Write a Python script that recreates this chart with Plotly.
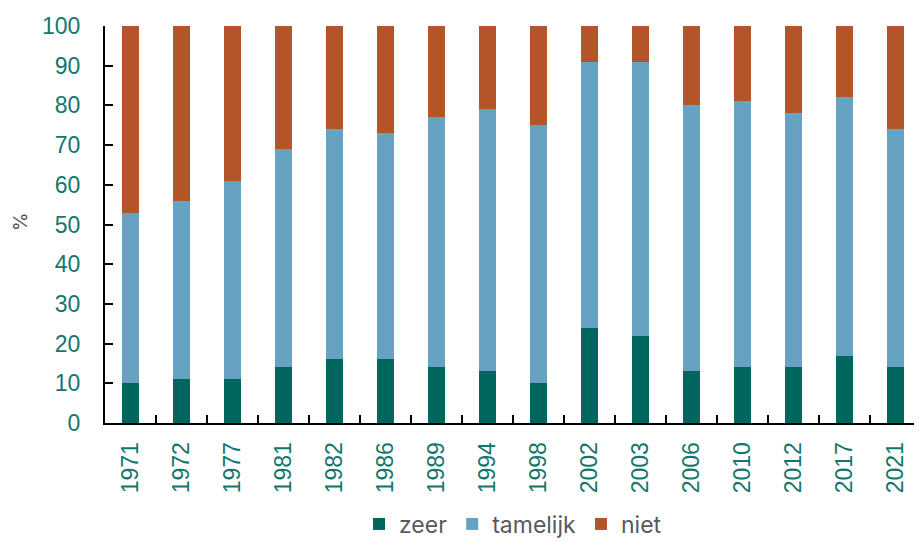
import plotly.graph_objects as go

years = ["1971","1972","1977","1981","1982","1986","1989","1994","1998","2002","2003","2006","2010","2012","2017","2021"]
zeer = [10, 11, 11, 14, 16, 16, 14, 13, 10, 24, 22, 13, 14, 14, 17, 14]
tamelijk = [43, 45, 50, 55, 58, 57, 63, 66, 65, 67, 69, 67, 67, 64, 65, 60]
niet = [47, 44, 39, 31, 26, 27, 23, 21, 25, 9, 9, 20, 19, 22, 18, 26]

series = [("zeer", zeer, "#00665E"), ("tamelijk", tamelijk, "#68A2C2"), ("niet", niet, "#B35528")]

fig = go.Figure()
for name, vals, col in series:
    fig.add_trace(go.Bar(x=years, y=vals, name=name, marker=dict(color=col, line=dict(width=0))))

tick_font = dict(family="Liberation Sans, Arial, sans-serif", size=23, color="#13776E")
# page body has an 8px margin, so the figure is drawn at (8, 8)
W, H = 914, 534
L, T = 97, 18
plot_bottom = 415
B = H - plot_bottom
plot_w = W - L - 1
plot_h = plot_bottom - T
fig.update_layout(
    barmode="stack",
    bargap=0.686,
    width=W, height=H,
    margin=dict(l=L, r=1, t=T, b=B, autoexpand=False),
    paper_bgcolor="white", plot_bgcolor="white",
    showlegend=True,
    legend=dict(orientation="h", x=0.5, xanchor="center", y=-(516 - plot_bottom) / plot_h, yanchor="middle",
                font=dict(family="Inter, Roboto, sans-serif", size=23, color="#595959"),
                traceorder="normal"),
    xaxis=dict(type="category", showline=True, linecolor="black", linewidth=2,
               ticks="inside", tickson="boundaries", ticklen=8, tickcolor="black", tickwidth=2,
               tickangle=-90, tickfont=tick_font, showgrid=False, automargin=False,
               ticklabelstandoff=8),
    yaxis=dict(range=[0, 100], dtick=10, showline=True, linecolor="black", linewidth=2,
               ticks="inside", ticklen=8, tickcolor="black", tickwidth=2,
               tickfont=tick_font, showgrid=False, zeroline=False, automargin=False,
               ticklabelstandoff=18),
    annotations=[dict(text="%", xref="paper", yref="paper", x=(12 - L) / plot_w, y=(415 - 214) / plot_h,
                      xanchor="center", yanchor="middle", textangle=-90, showarrow=False,
                      font=dict(family="Inter, Roboto, sans-serif", size=19, color="#555555"))],
)
fig.write_html("out.html")
